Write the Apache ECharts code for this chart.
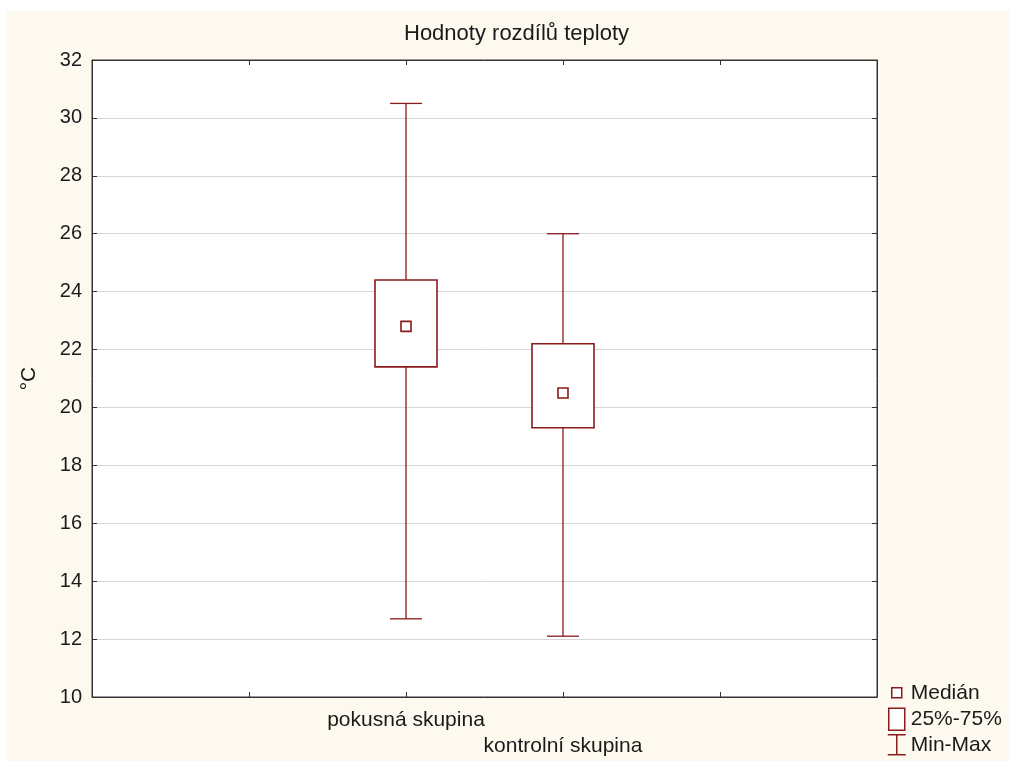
<!DOCTYPE html>
<html>
<head>
<meta charset="utf-8">
<script src="https://cdn.jsdelivr.net/npm/echarts@6/dist/echarts.min.js"></script>
<style>
  html, body { margin: 0; padding: 0; background: #fff; }
  #chart { position: absolute; left: 7px; top: 11px; width: 1002px; height: 750px; background: #fdf9ef; }
</style>
</head>
<body>
<div id="chart"></div>
<script>
// groups and their summary values (°C)
const categories = ['pokusná skupina', 'kontrolní skupina'];
const minVals = [12.7, 12.1];
const q1Vals = [21.4, 19.3];
const medianVals = [22.8, 20.5];
const q3Vals = [24.4, 22.2];
const maxVals = [30.5, 26.0];
const yTicks = [10, 12, 14, 16, 18, 20, 22, 24, 26, 28, 30, 32];

// x axis has two empty slots on each side, like the original
const xSlots = ['', ''].concat(categories, ['', '']);
const rows = categories.map((c, i) => [i + 2, minVals[i], q1Vals[i], medianVals[i], q3Vals[i], maxVals[i]]);

const RED = '#8b1a1a';
const TXT = '#1a1a1a';
const FONT = 'Liberation Sans, Arial, sans-serif';

const chart = echarts.init(document.getElementById('chart'));

function whiskers(params, api) {
  const x = api.value(0);
  const lo = api.coord([x, api.value(1)]);
  const hi = api.coord([x, api.value(5)]);
  const cap = 16;
  const style = { stroke: RED, lineWidth: 1.3, fill: null };
  return {
    type: 'group',
    children: [
      { type: 'line', shape: { x1: lo[0], y1: lo[1], x2: hi[0], y2: hi[1] }, style },
      { type: 'line', shape: { x1: lo[0] - cap, y1: lo[1], x2: lo[0] + cap, y2: lo[1] }, style },
      { type: 'line', shape: { x1: hi[0] - cap, y1: hi[1], x2: hi[0] + cap, y2: hi[1] }, style }
    ]
  };
}

function box(params, api) {
  const x = api.value(0);
  const a = api.coord([x, api.value(4)]);
  const b = api.coord([x, api.value(2)]);
  const w = 62;
  return {
    type: 'rect',
    shape: { x: a[0] - w / 2, y: a[1], width: w, height: b[1] - a[1] },
    style: { fill: '#fff', stroke: RED, lineWidth: 1.6 }
  };
}

function median(params, api) {
  const p = api.coord([api.value(0), api.value(3)]);
  const s = 10;
  return {
    type: 'rect',
    shape: { x: p[0] - s / 2, y: p[1] - s / 2, width: s, height: s },
    style: { fill: '#fff', stroke: RED, lineWidth: 1.6 }
  };
}

const yBase = {
  type: 'value',
  min: yTicks[0],
  max: yTicks[yTicks.length - 1],
  interval: 2
};

chart.setOption({
  animation: false,
  title: {
    text: 'Hodnoty rozdílů teploty',
    left: 397,
    top: 12,
    padding: 0,
    textStyle: { fontFamily: FONT, fontSize: 22, fontWeight: 'normal', color: TXT }
  },
  grid: {
    left: 85, top: 49, width: 785, height: 637,
    outerBoundsMode: 'none',
    containLabel: false,
    show: true, backgroundColor: '#fff', borderColor: '#333', borderWidth: 1
  },
  legend: {
    orient: 'vertical',
    left: 880,
    top: 670,
    padding: 0,
    itemWidth: 18,
    itemHeight: 22,
    itemGap: 3,
    selectedMode: false,
    textStyle: { fontFamily: FONT, fontSize: 21, color: TXT },
    data: [
      { name: 'Medián', icon: 'path://M0,0M18,22M4,6h10v10h-10z', itemStyle: { color: '#fff', borderColor: RED, borderWidth: 1.5 } },
      { name: '25%-75%', icon: 'path://M1,0h16v22h-16z', itemStyle: { color: '#fff', borderColor: RED, borderWidth: 1.5 } },
      { name: 'Min-Max', icon: 'path://M0,1H18M9,1V21M0,21H18', itemStyle: { color: '#fff', borderColor: RED, borderWidth: 1.5 } }
    ]
  },
  xAxis: [
    {
      type: 'category',
      data: xSlots,
      boundaryGap: false,
      axisLine: { lineStyle: { color: '#333' } },
      axisTick: { inside: true, length: 5, interval: 0, lineStyle: { color: '#333' } },
      axisLabel: {
        interval: 0,
        margin: 10,
        fontFamily: FONT, fontSize: 21, color: TXT, lineHeight: 26,
        formatter: (v, i) => (i === 3 ? '\n' + v : v)
      },
      splitLine: { show: false }
    },
    {
      type: 'category',
      data: xSlots,
      boundaryGap: false,
      position: 'top',
      axisLine: { lineStyle: { color: '#333' } },
      axisTick: { inside: true, length: 5, interval: 0, lineStyle: { color: '#333' } },
      axisLabel: { show: false }
    }
  ],
  yAxis: [
    Object.assign({}, yBase, {
      name: '°C',
      nameLocation: 'middle',
      nameGap: 52,
      nameRotate: 90,
      nameTextStyle: { fontFamily: FONT, fontSize: 21, color: TXT },
      axisLine: { show: true, lineStyle: { color: '#333' } },
      axisTick: { show: true, inside: true, length: 5, lineStyle: { color: '#333' } },
      axisLabel: { margin: 10, fontFamily: FONT, fontSize: 20, color: TXT },
      splitLine: { show: true, lineStyle: { color: '#d6d6d6', width: 1 } }
    }),
    Object.assign({}, yBase, {
      position: 'right',
      axisLine: { show: true, lineStyle: { color: '#333' } },
      axisTick: { show: true, inside: true, length: 5, lineStyle: { color: '#333' } },
      axisLabel: { show: false },
      splitLine: { show: false }
    })
  ],
  series: [
    { name: 'Min-Max', type: 'custom', renderItem: whiskers, data: rows, itemStyle: { color: RED }, z: 2 },
    { name: '25%-75%', type: 'custom', renderItem: box, data: rows, itemStyle: { color: RED }, z: 3 },
    { name: 'Medián', type: 'custom', renderItem: median, data: rows, itemStyle: { color: RED }, z: 4 }
  ]
});
</script>
</body>
</html>
